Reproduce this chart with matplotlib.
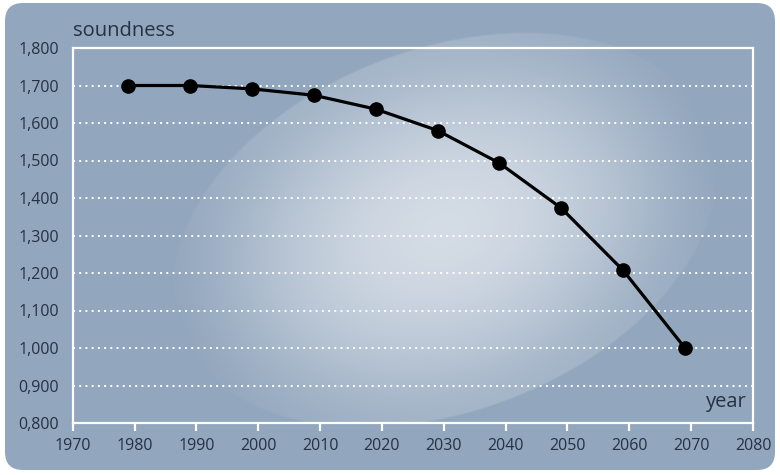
import numpy as np
import matplotlib.pyplot as plt
from matplotlib.patches import FancyBboxPatch

#%% Data
years = [1979, 1989, 1999, 2009, 2019, 2029, 2039, 2049, 2059, 2069]
soundness = [1700, 1700, 1691, 1674, 1637, 1580, 1493, 1373, 1207, 1000]

x_ticks = list(range(1970, 2081, 10))
y_ticks = list(range(800, 1801, 100))
grid_levels = list(range(900, 1800, 100))

plt.rcParams['font.family'] = ['Open Sans', 'DejaVu Sans']
txt_col = '#263241'

W, H = 780, 475
fig = plt.figure(figsize=(W / 100, H / 100), dpi=100, facecolor='white')

#%% Background panel with light tilted ellipse
bg = fig.add_axes([0, 0, 1, 1])
bg.set_xlim(0, W)
bg.set_ylim(H, 0)
bg.axis('off')

yy, xx = np.mgrid[0:H, 0:W] + 0.5
cx, cy = 445, 230
a, b = 285, 182
th = np.deg2rad(21)
dx = xx - cx
dy = cy - yy
u = dx * np.cos(th) + dy * np.sin(th)
v = -dx * np.sin(th) + dy * np.cos(th)
r = np.sqrt((u / a) ** 2 + (v / b) ** 2)

# sharp edge on the long sides, soft at the ends
side = (v / b) ** 2  # ~1 on the long sides near the rim, 0 at the ends
edge = np.clip((1 - r) / 0.012, 0, 1)
L = edge * (0.24 * side + 0.8 * np.clip(1 - r ** 2, 0, 1) ** 1.4)
L[yy > 424] = 0

base = np.array([146, 166, 189]) / 255
light = np.array([228, 233, 239]) / 255
img = base + np.clip(L, 0, 1)[..., None] * (light - base)

im = bg.imshow(img, extent=(0, W, H, 0), interpolation='bilinear')
panel = FancyBboxPatch((5, 3), 770, 467, boxstyle='round,pad=0,rounding_size=18',
                       facecolor='none', edgecolor='none', transform=bg.transData)
bg.add_patch(panel)
im.set_clip_path(panel)

#%% Main chart
ax = fig.add_axes([72.7 / W, 52 / H, (753 - 72.7) / W, (423 - 48) / H])
ax.patch.set_alpha(0)

for lev in grid_levels:
    ax.axhline(lev, color='white', lw=1.4, ls=(0, (1, 2.2)), zorder=1)

ax.plot(years, soundness, color='black', lw=2.3, marker='o', ms=9.5, zorder=3)

ax.set_xlim(1970, 2080)
ax.set_ylim(800, 1800)
ax.set_xticks(x_ticks)
ax.set_yticks(y_ticks)
ax.set_yticklabels([('%.3f' % (t / 1000)).replace('.', ',') for t in y_ticks])

for s in ax.spines.values():
    s.set_color('white')
    s.set_linewidth(1.6)

ax.tick_params(axis='x', direction='out', length=6, width=1.6, color='white',
               labelsize=11.5, labelcolor=txt_col, pad=5)
ax.tick_params(axis='y', length=0, labelsize=11.5, labelcolor=txt_col, pad=10)

fig.text(73 / W, 1 - 31 / H, 'soundness', fontsize=14.5, color=txt_col,
         ha='left', va='center')
ax.text(0.99, 0.03, 'year', transform=ax.transAxes, fontsize=14.5, color=txt_col,
        ha='right', va='bottom')

fig.savefig('out.png', dpi=100, facecolor='white')
